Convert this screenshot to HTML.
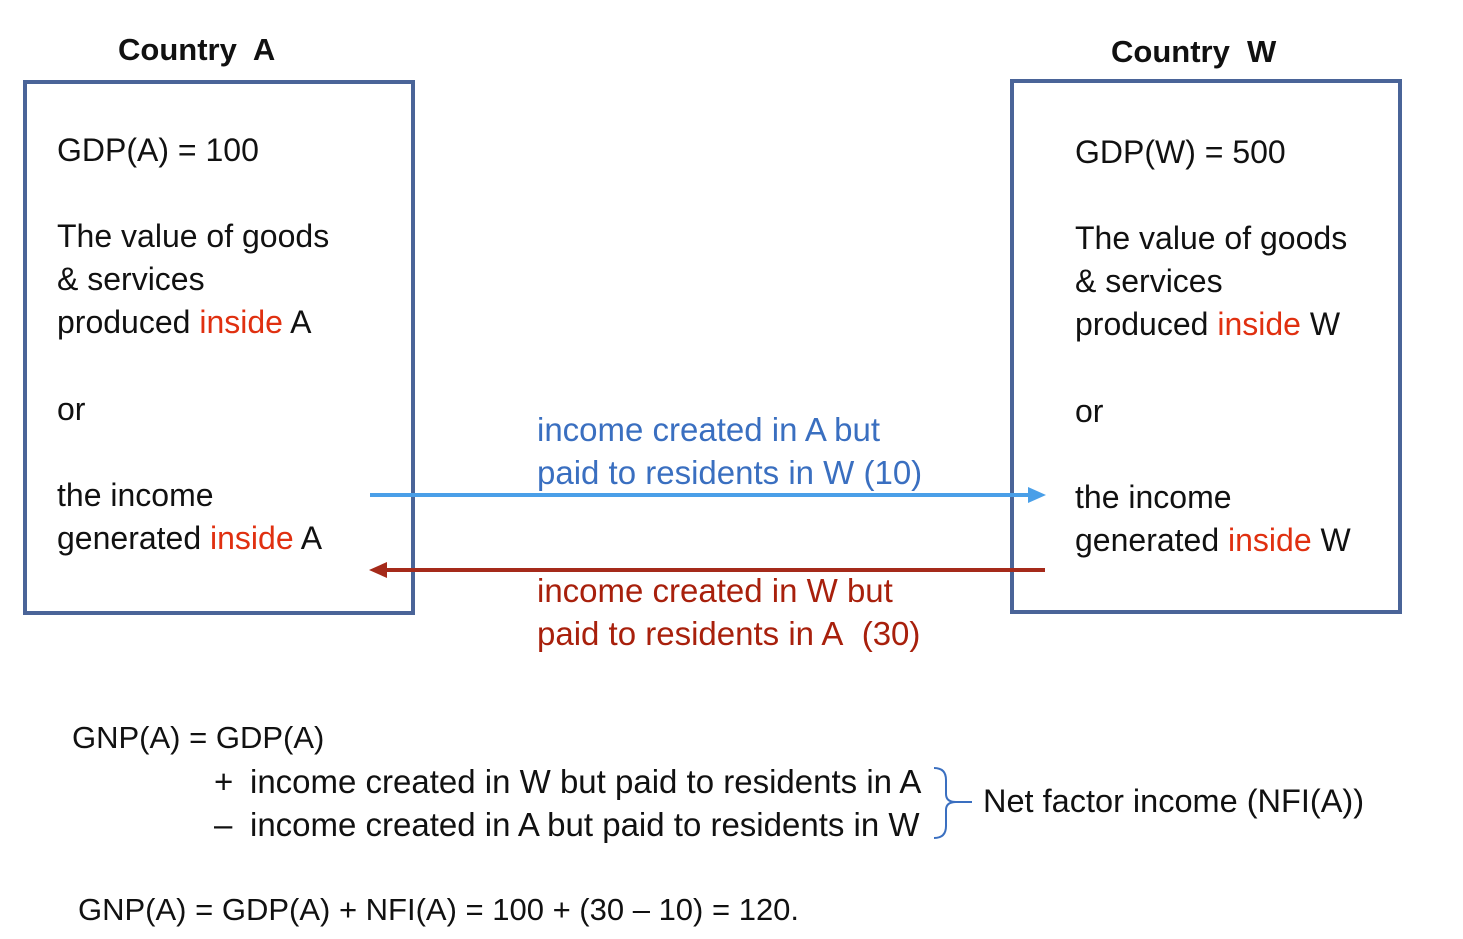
<!DOCTYPE html>
<html><head><meta charset="utf-8"><style>
body{margin:0;width:1463px;height:939px;background:#fff;position:relative;overflow:hidden;font-family:"Liberation Sans",sans-serif;}
.t{position:absolute;white-space:nowrap;font-size:32px;line-height:30px;color:#111;}
.r{color:#e03010}
.b{color:#3a6fc0;font-size:33px}
.d{color:#a8200c;font-size:33px}
.h{font-weight:bold;font-size:31px;}
.box{position:absolute;border:4px solid #4a6498;box-sizing:border-box;}
</style></head><body>
<div class="t h" style="left:118px;top:35px">Country&nbsp; A</div>
<div class="t h" style="left:1111px;top:37px">Country&nbsp; W</div>
<div class="box" style="left:23px;top:80px;width:392px;height:535px"></div>
<div class="box" style="left:1010px;top:79px;width:392px;height:535px"></div>

<div class="t" style="left:57px;top:135px">GDP(A) = 100</div>
<div class="t" style="left:57px;top:221px">The value of goods</div>
<div class="t" style="left:57px;top:264px">&amp; services</div>
<div class="t" style="left:57px;top:307px">produced <span class="r">inside</span> A</div>
<div class="t" style="left:57px;top:394px">or</div>
<div class="t" style="left:57px;top:480px">the income</div>
<div class="t" style="left:57px;top:523px">generated <span class="r">inside</span> A</div>

<div class="t" style="left:1075px;top:137px">GDP(W) = 500</div>
<div class="t" style="left:1075px;top:223px">The value of goods</div>
<div class="t" style="left:1075px;top:266px">&amp; services</div>
<div class="t" style="left:1075px;top:309px">produced <span class="r">inside</span> W</div>
<div class="t" style="left:1075px;top:396px">or</div>
<div class="t" style="left:1075px;top:482px">the income</div>
<div class="t" style="left:1075px;top:525px">generated <span class="r">inside</span> W</div>

<div class="t b" style="left:537px;top:415px">income created in A but</div>
<div class="t b" style="left:537px;top:458px">paid to residents in W (10)</div>
<div class="t d" style="left:537px;top:576px">income created in W but</div>
<div class="t d" style="left:537px;top:619px">paid to residents in A&nbsp; (30)</div>

<svg style="position:absolute;left:0;top:0" width="1463" height="939">
<line x1="370" y1="495" x2="1030" y2="495" stroke="#4a9fe8" stroke-width="4"/>
<polygon points="1046,495 1028,487 1028,503" fill="#4a9fe8"/>
<line x1="385" y1="570" x2="1045" y2="570" stroke="#a52a1a" stroke-width="4"/>
<polygon points="369,570 387,562 387,578" fill="#a52a1a"/>
<path d="M934,768 Q946,768 946,780 L946,794 Q946,802 956,802 Q946,802 946,810 L946,826 Q946,838 934,838" fill="none" stroke="#3a6fc0" stroke-width="2"/>
<line x1="956" y1="802" x2="972" y2="802" stroke="#3a6fc0" stroke-width="2"/>
</svg>

<div class="t" style="left:72px;top:723px;font-size:31px">GNP(A) = GDP(A)</div>
<div class="t" style="left:214px;top:767px;font-size:33px">+</div>
<div class="t" style="left:250px;top:767px;font-size:33px">income created in W but paid to residents in A</div>
<div class="t" style="left:214px;top:810px;font-size:33px">–</div>
<div class="t" style="left:250px;top:810px;font-size:33px">income created in A but paid to residents in W</div>
<div class="t" style="left:983px;top:786px;font-size:32.5px">Net factor income (NFI(A))</div>
<div class="t" style="left:78px;top:895px;font-size:31px">GNP(A) = GDP(A) + NFI(A) = 100 + (30 – 10) = 120.</div>
</body></html>
